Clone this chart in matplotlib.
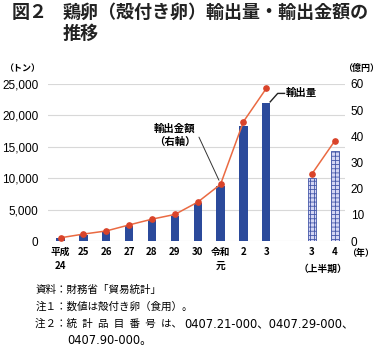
import matplotlib
matplotlib.use("Agg")
import matplotlib.pyplot as plt
from matplotlib.lines import Line2D
import numpy as np

plt.rcParams['font.family'] = ['Noto Sans CJK JP', 'DejaVu Sans']
plt.rcParams['hatch.linewidth'] = 0.6

# Data
categories = ["平成\n24", "25", "26", "27", "28", "29", "30", "令和\n元", "2", "3", "3", "4"]
volume_t = [500, 950, 1500, 2450, 3400, 4000, 6000, 8700, 18250, 22000, 10000, 14300]
value_oku = [1.3, 2.7, 3.9, 6.2, 8.4, 10.2, 14.9, 21.7, 45.6, 58.3, 25.7, 38.3]
half_year = [False]*10 + [True, True]
left_ticks = [0, 5000, 10000, 15000, 20000, 25000]
right_ticks = [0, 10, 20, 30, 40, 50, 60]

pos = list(range(10)) + [11, 12]

fig = plt.figure(figsize=(3.78, 3.47), dpi=100)
ax = fig.add_axes([0.127, 0.305, 0.786, 0.453])
ax2 = ax.twinx()

bar_color = "#2b4a9b"
for p, v, h in zip(pos, volume_t, half_year):
    if h:
        ax.bar(p, v, width=0.36, color="#d4d6f4", edgecolor="#4356a8",
               hatch="++++", linewidth=0.6, zorder=3)
    else:
        ax.bar(p, v, width=0.36, color=bar_color, zorder=3)

line_col = "#ea6a42"
mk_col = "#d9432a"
ax2.plot(pos[:10], value_oku[:10], color=line_col, lw=1.1, marker="o", ms=3.8,
         mfc=mk_col, mec=mk_col, zorder=4)
ax2.plot(pos[10:], value_oku[10:], color=line_col, lw=1.1, marker="o", ms=3.8,
         mfc=mk_col, mec=mk_col, zorder=4)

ax.set_xlim(-0.55, 12.45)
ax.set_ylim(0, 25000)
ax2.set_ylim(0, 60)
ax.set_yticks(left_ticks)
ax.set_yticklabels([f"{t:,}" for t in left_ticks])
ax2.set_yticks(right_ticks)
ax2.set_yticklabels([str(t) for t in right_ticks])

ax.set_xticks(pos)
ax.set_xticklabels(categories, fontsize=7, fontweight="bold", linespacing=1.5,
                   va="top")
for a in (ax, ax2):
    for s in a.spines.values():
        s.set_visible(False)
    a.tick_params(length=0)
ax.tick_params(axis="x", pad=4)
ax.tick_params(axis="y", labelsize=8.5, pad=7)
ax2.tick_params(axis="y", labelsize=8.5, pad=4)
for lbl in ax.get_yticklabels() + ax2.get_yticklabels():
    lbl.set_family(['Liberation Sans', 'DejaVu Sans'])

ax.grid(axis="y", color="#d8d8d8", lw=0.8, zorder=0)
ax.set_axisbelow(True)
ax2.set_zorder(ax.get_zorder() + 1)
ax2.patch.set_visible(False)

# Annotations
ax2.text(9.85, 23500, "輸出量", transform=ax.transData,
         fontsize=7.5, fontweight="bold", va="center", ha="left", zorder=6)
leader = Line2D([9.17, 9.5, 9.8], [22150, 23500, 23500], transform=ax.transData,
                color="#222222", lw=1.0, clip_on=False, zorder=7)
ax2.add_artist(leader)
ax2.annotate("輸出金額\n（右軸）", xy=(6.98, 22.3), xytext=(5.0, 40.5),
             fontsize=7.5, fontweight="bold", va="center", ha="center",
             linespacing=1.4,
             arrowprops=dict(arrowstyle="-", color="#333333", lw=0.7,
                             shrinkA=1, shrinkB=2,
                             relpos=(1.0, 0.72)))
ax.text(11.5, -3600, "（上半期）", fontsize=7, fontweight="bold", ha="center", va="top")

# Axis unit labels
fig.text(0.058, 0.802, "（トン）", fontsize=6.5, fontweight="bold", ha="center", va="center")
fig.text(0.955, 0.802, "（億円）", fontsize=6.5, fontweight="bold", ha="center", va="center")
fig.text(0.955, 0.27, "（年）", fontsize=6.5, fontweight="bold", ha="center", va="center")

# Title
fig.text(0.03, 0.965, "図２", fontsize=13, fontweight="bold", va="center", color="#222222")
fig.text(0.165, 0.965, "鶏卵（殻付き卵）輸出量・輸出金額の", fontsize=13,
         fontweight="bold", va="center", color="#222222")
fig.text(0.165, 0.905, "推移", fontsize=13, fontweight="bold", va="center", color="#222222")

# Notes
notes_x = 0.093
num_family = ['DejaVu Sans', 'Noto Sans CJK JP']
fig.text(notes_x, 0.165, "資料：財務省「貿易統計」", fontsize=7.6, va="center")
fig.text(notes_x, 0.116, "注１：数値は殻付き卵（食用）。", fontsize=7.6, va="center")
t3 = fig.text(notes_x, 0.067, "注２：統\u2002計\u2002品\u2002目\u2002番\u2002号\u2002は、",
              fontsize=7.6, va="center")
fig.canvas.draw()
bb = t3.get_window_extent()
fig.text(bb.x1 / fig.bbox.width + 0.005, 0.067, "0407.21-000、0407.29-000、",
         fontsize=8.3, va="center", family=num_family)
fig.text(0.177, 0.02, "0407.90-000。", fontsize=8.3, va="center", family=num_family)

fig.savefig("out.png", dpi=100)
